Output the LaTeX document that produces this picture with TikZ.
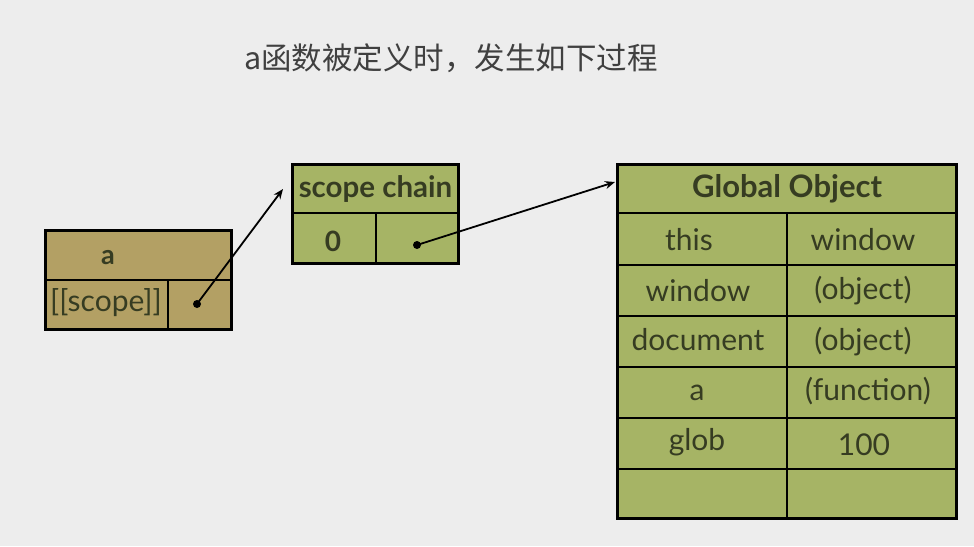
\documentclass[tikz,border=0pt]{standalone}
\usepackage{fontspec}
\setmainfont{Lato}
\newfontfamily\cjk{Noto Sans CJK SC}
\usetikzlibrary{arrows.meta}
\definecolor{bg}{HTML}{EDEDED}
\definecolor{tanfill}{HTML}{B3A064}
\definecolor{olivefill}{HTML}{A6B465}
\definecolor{ink}{HTML}{363C22}
\begin{document}
\begin{tikzpicture}[x=1pt,y=-1pt,
  frame/.style={draw=black,line width=3pt,inner sep=0pt,outer sep=0pt},
  divider/.style={draw=black,line width=2pt},
  lbl/.style={text=ink,inner sep=0pt,font=\fontsize{30}{30}\selectfont},
  blbl/.style={text=ink,inner sep=0pt,font=\bfseries\fontsize{29.5}{29.5}\selectfont},
  dotnode/.style={circle,fill=black,inner sep=0pt,minimum size=8pt},
  ptr/.style={draw=black,line width=1.8pt,-{Stealth[length=10pt,width=8pt]}}]
\fill[bg] (0,0) rectangle (974,546);
\useasboundingbox (0,0) rectangle (974,546);
% title
\node[text=black!75,inner sep=0pt,font=\cjk\fontsize{30.5}{30.5}\selectfont] (title) at (451,58) {a函数被定义时，发生如下过程};
% box a
\node[frame,fill=tanfill,minimum width=186pt,minimum height=99pt] (abox) at (138.5,280) {};
\draw[divider] (45.5,280) -- (231.5,280);
\draw[divider] (168,280) -- (168,329.5);
\node[blbl,font=\bfseries\fontsize{27}{27}\selectfont] (aname) at (108,258) {a};
\node[lbl] (ascope) at (106,303) {[[scope]]};
\node[dotnode] (d1) at (197,304) {};
% scope chain
\node[frame,fill=olivefill,minimum width=166pt,minimum height=99pt] (sc) at (375.5,214) {};
\draw[divider] (292.5,213) -- (458.5,213);
\draw[divider] (376,213) -- (376,263.5);
\node[blbl] (sctitle) at (375.5,189) {scope chain};
\node[blbl,font=\bfseries\fontsize{28}{28}\selectfont] (zero) at (333,241) {0};
\node[dotnode] (d2) at (417,245) {};
% global object
\node[frame,fill=olivefill,minimum width=339pt,minimum height=354pt] (go) at (787,341.5) {};
\foreach \yy in {213,265,316,367,418,469}
  \draw[divider] (617.5,\yy) -- (956.5,\yy);
\draw[divider] (787,213) -- (787,518.5);
\node[blbl,font=\bfseries\fontsize{31}{31}\selectfont] (gotitle) at (787,189) {Global Object};
\node[lbl] (k1) at (689,240) {this};
\node[lbl] (v1) at (863,240) {window};
\node[lbl] (k2) at (698,291) {window};
\node[lbl] (v2) at (863,291) {(object)};
\node[lbl] (k3) at (698,340) {document};
\node[lbl] (v3) at (863,342) {(object)};
\node[lbl] (k4) at (697,393) {a};
\node[lbl] (v4) at (868,391) {(function)};
\node[lbl] (k5) at (697,442) {glob};
\node[lbl] (v5) at (864,445) {100};
% pointers
\coordinate (t1) at (283,189);
\coordinate (t2) at (615,182);
\draw[ptr] (d1.center) -- (t1);
\draw[ptr] (d2.center) -- (t2);
\end{tikzpicture}
\end{document}
